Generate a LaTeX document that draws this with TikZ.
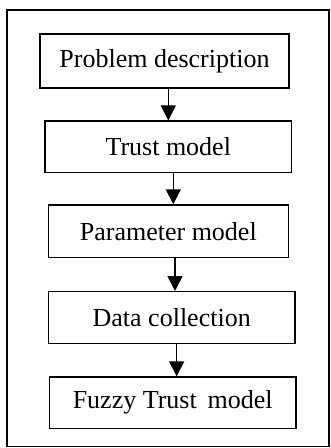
\documentclass[tikz,border=0pt]{standalone}
\usepackage{fontspec}
\setmainfont{Liberation Serif}
\usetikzlibrary{arrows.meta}
\begin{document}
\begin{tikzpicture}[x=1pt,y=-1pt,
  stepbox/.style={draw=black,line width=1.3pt,fill=white,inner sep=0pt,
    font=\fontsize{26}{31}\selectfont,text=black},
  flow/.style={line width=1.5pt,-{Triangle[length=15pt,width=15pt]}}]
\useasboundingbox (0,0) rectangle (330,448);
\draw[line width=1.6pt] (7,10) rectangle (329,446.5);
\node[stepbox,minimum width=249pt,minimum height=54pt] (b1) at (164.5,61) {Problem description};
\node[stepbox,minimum width=246.7pt,minimum height=51.3pt] (b2) at (168.3,146.7) {Trust model};
\node[stepbox,minimum width=240pt,minimum height=52.7pt] (b3) at (168.3,231.3) {Parameter model};
\node[stepbox,minimum width=246.7pt,minimum height=51.7pt] (b4) at (171.7,317.5) {Data collection};
\node[stepbox,minimum width=246.7pt,minimum height=51.3pt] (b5) at (172.7,402.7) {Fuzzy Trust\, model};
\draw[flow] (b1.south -| b2.north) -- (b2.north);
\draw[flow] ([xshift=5pt]b2.south) -- ([xshift=5pt]b3.north);
\draw[flow] ([xshift=6.7pt]b3.south) -- ([xshift=3.3pt]b4.north);
\draw[flow] ([xshift=5pt]b4.south) -- ([xshift=4pt]b5.north);
\end{tikzpicture}
\end{document}
